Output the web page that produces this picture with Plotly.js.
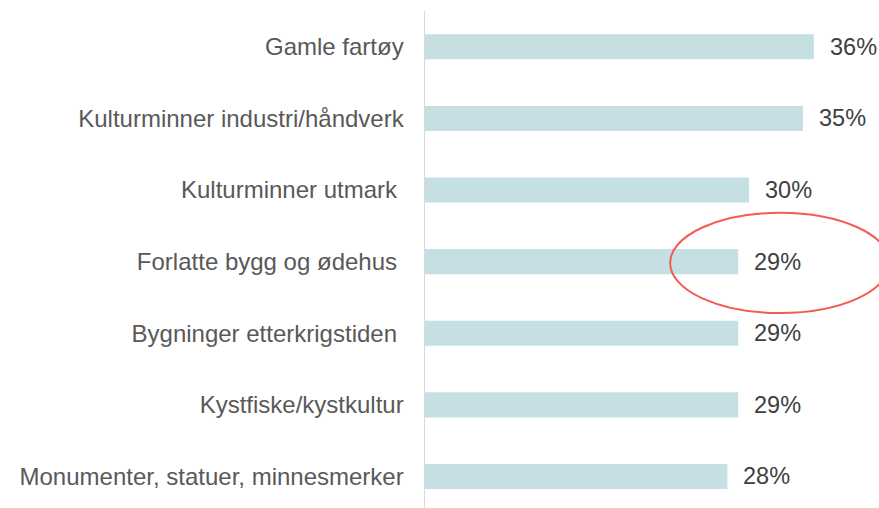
<!DOCTYPE html>
<html>
<head>
<meta charset="utf-8">
<script src="https://cdn.plot.ly/plotly-3.0.1.min.js"></script>
<style>html,body{margin:0;padding:0;background:#fff;}#chart{width:879px;height:508px;}</style>
</head>
<body>
<div id="chart"></div>
<script>
const categories = [
  "Gamle fartøy",
  "Kulturminner industri/håndverk",
  "Kulturminner utmark\u00a0",
  "Forlatte bygg og ødehus\u00a0",
  "Bygninger etterkrigstiden\u00a0",
  "Kystfiske/kystkultur",
  "Monumenter, statuer, minnesmerker"
];
const values = [36, 35, 30, 29, 29, 29, 28];
const valueLabels = ["36%", "35%", "30%", "29%", "29%", "29%", "28%"];

const textColor = "#595959";
const valueColor = "#404040";
const fontFamily = "'Liberation Sans', Arial, sans-serif";

const trace = {
  type: "bar",
  orientation: "h",
  x: values,
  y: categories,
  width: 0.35,
  marker: {color: "#c5dfe3"},
  hoverinfo: "none"
};

const annotations = values.map((v, i) => ({
  x: v, y: categories[i], xref: "x", yref: "y",
  text: valueLabels[i], showarrow: false,
  xanchor: "left", yanchor: "middle", xshift: 14,
  font: {family: fontFamily, size: 23.5, color: valueColor}
}));

const layout = {
  width: 879, height: 508,
  margin: {l: 425, r: 0, t: 11, b: 0, pad: 0},
  paper_bgcolor: "#ffffff",
  plot_bgcolor: "#ffffff",
  showlegend: false,
  font: {family: fontFamily, size: 24, color: textColor},
  xaxis: {range: [0, 42.04], visible: false, fixedrange: true},
  yaxis: {
    type: "category",
    range: [6.44, -0.5],
    showline: true, linecolor: "#d9d9d9", linewidth: 1.5,
    showgrid: false, zeroline: false, ticks: "",
    ticklabelstandoff: 15,
    tickfont: {family: fontFamily, size: 24, color: textColor}
  },
  shapes: [{
    type: "circle", xref: "x", yref: "y",
    x0: 22.7, x1: 43.05, y0: 2.318, y1: 3.718,
    line: {color: "#f45b55", width: 2}
  }],
  annotations: annotations
};

Plotly.newPlot("chart", [trace], layout, {staticPlot: true, displayModeBar: false});
</script>
</body>
</html>
